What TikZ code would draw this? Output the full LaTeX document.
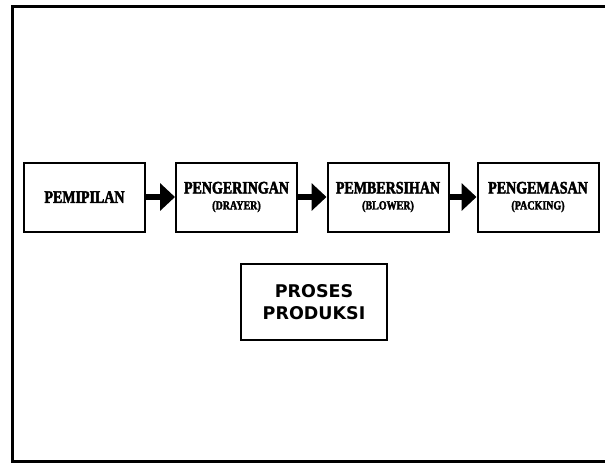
\documentclass[tikz,border=0pt]{standalone}
\usepackage{fontspec}
\setmainfont{Liberation Serif}
\newfontfamily\heavy{Liberation Serif}[FakeStretch=0.8,FakeBold=2.5]
\newfontfamily\boxsans{DejaVu Sans}
\usetikzlibrary{arrows.meta}
\tikzstyle{stp}=[draw=black,line width=2pt,minimum width=121pt,minimum height=69pt,inner sep=0pt,align=center,font=\heavy\bfseries\fontsize{17.5}{17}\selectfont]
\tikzstyle{ar}=[line width=6pt,-{Triangle[length=15pt,width=27pt]},shorten >=0pt]
\newcommand{\sub}[1]{\\[-1pt]{\fontsize{12.5}{12}\selectfont #1}}

\begin{document}
\begin{tikzpicture}[x=1pt,y=-1pt]
\useasboundingbox (0,0) rectangle (605,464);
\draw[line width=3pt] (12.5,6) rectangle (640,461.5);
\node[stp] (pemipilan) at (84.5,197) {PEMIPILAN};
\node[stp] (pengeringan) at (236.5,197) {PENGERINGAN\sub{(DRAYER)}};
\node[stp] (pembersihan) at (388,197) {PEMBERSIHAN\sub{(BLOWER)}};
\node[stp] (pengemasan) at (538,197) {PENGEMASAN\sub{(PACKING)}};
\draw[ar] (pemipilan) -- (pengeringan);
\draw[ar] (pengeringan) -- (pembersihan);
\draw[ar] (pembersihan) -- (pengemasan);
\node[draw=black,line width=2pt,minimum width=146pt,minimum height=76pt,align=center,
  font=\boxsans\bfseries\fontsize{17.5}{22}\selectfont] (proses) at (314,302) {PROSES\\PRODUKSI};
\end{tikzpicture}
\end{document}
